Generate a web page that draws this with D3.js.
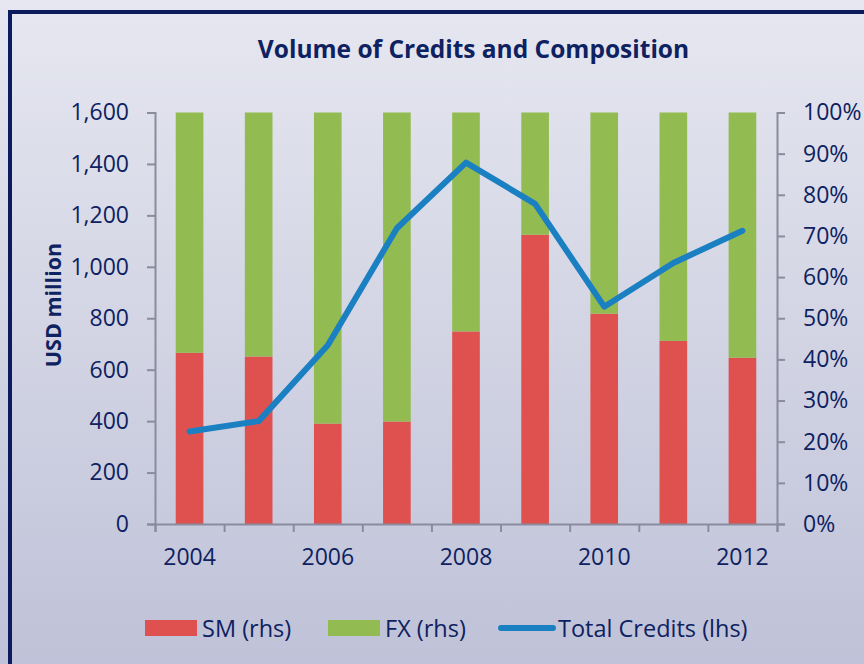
<!DOCTYPE html>
<html>
<head>
<meta charset="utf-8">
<script src="https://cdn.jsdelivr.net/npm/d3@7"></script>
<style>
  body { margin: 0; padding: 0; }
  svg text { font-family: "Open Sans", "Noto Sans", sans-serif; fill: #0e2160; }
</style>
</head>
<body>
<div id="chart"></div>
<script>
// Categories
const years = [2004, 2005, 2006, 2007, 2008, 2009, 2010, 2011, 2012];
// Total credits, USD million (left axis)
const totalCredits = [360, 400, 695, 1150, 1405, 1245, 845, 1015, 1140];
// Composition, % (right axis)
const smShare = [41.6, 40.7, 24.4, 24.9, 46.8, 70.3, 51.1, 44.5, 40.4];
const fxShare = [58.4, 59.3, 75.6, 75.1, 53.2, 29.7, 48.9, 55.5, 59.6];
// Tick labels
const leftTicks = [0, 200, 400, 600, 800, 1000, 1200, 1400, 1600];
const rightTicks = [0, 10, 20, 30, 40, 50, 60, 70, 80, 90, 100];
const xLabels = [2004, 2006, 2008, 2010, 2012];

const W = 864, H = 664;
const margin = {top: 112.5, right: 87, bottom: 140, left: 155};
const width = W - margin.left - margin.right,
    height = H - margin.top - margin.bottom;

const colors = {sm: "#df514f", fx: "#92bb51", line: "#1b80c1", axis: "#8a8c9e", frame: "#0b1b5e"};

const svg = d3.select("#chart")
    .append("svg")
    .attr("width", W)
    .attr("height", H);

// Background gradient
const grad = svg.append("defs").append("linearGradient")
    .attr("id", "bg")
    .attr("x1", 0).attr("y1", 0).attr("x2", 0).attr("y2", 1);
grad.append("stop").attr("offset", "0%").attr("stop-color", "#e6e7f0");
grad.append("stop").attr("offset", "100%").attr("stop-color", "#bfc2d8");

svg.append("rect")
    .attr("width", W)
    .attr("height", H)
    .attr("fill", "url(#bg)");

// Frame (runs off the right and bottom edges)
svg.append("rect")
    .attr("x", 10)
    .attr("y", 12)
    .attr("width", W + 20)
    .attr("height", H + 20)
    .attr("fill", "none")
    .attr("stroke", colors.frame)
    .attr("stroke-width", 4);

const chart = svg.append("g")
    .attr("transform", `translate(${margin.left},${margin.top})`);

// Scales
const x = d3.scaleBand()
    .domain(years)
    .range([0, width])
    .paddingInner(0.6)
    .paddingOuter(0.3);
const xEdge = d3.scaleLinear().domain([0, years.length]).range([0, width]);
const yL = d3.scaleLinear().domain([0, 1600]).range([height, 0]);
const yR = d3.scaleLinear().domain([0, 100]).range([height, 0]);

// Stacked bars
const rows = years.map((yr, i) => ({year: yr, sm: smShare[i], fx: fxShare[i]}));
const stacked = d3.stack().keys(["sm", "fx"])(rows);

chart.selectAll(".layer")
    .data(stacked)
    .enter().append("g")
    .attr("class", "layer")
    .attr("fill", d => colors[d.key])
    .selectAll("rect")
    .data(d => d)
    .enter().append("rect")
    .attr("x", d => x(d.data.year))
    .attr("width", x.bandwidth())
    .attr("y", d => yR(d[1]))
    .attr("height", d => yR(d[0]) - yR(d[1]));

// Axes
const styleAxis = g => {
    g.selectAll(".domain").attr("stroke", colors.axis).attr("stroke-width", 2);
    g.selectAll(".tick line").attr("stroke", colors.axis).attr("stroke-width", 2);
    g.selectAll("text").style("font-size", "23px").attr("fill", "#0e2160");
};

chart.append("g")
    .call(d3.axisLeft(yL)
        .tickValues(leftTicks)
        .tickFormat(d3.format(","))
        .tickSize(8)
        .tickPadding(18))
    .call(styleAxis);

chart.append("g")
    .attr("transform", `translate(${width},0)`)
    .call(d3.axisRight(yR)
        .tickValues(rightTicks)
        .tickFormat(d => d + "%")
        .tickSize(8)
        .tickPadding(18))
    .call(styleAxis);

// category boundary ticks
chart.append("g")
    .attr("transform", `translate(0,${height})`)
    .call(d3.axisBottom(xEdge)
        .ticks(years.length)
        .tickFormat("")
        .tickSize(8))
    .call(styleAxis);

// year labels
chart.append("g")
    .attr("transform", `translate(0,${height})`)
    .call(d3.axisBottom(x)
        .tickValues(xLabels)
        .tickSize(0)
        .tickPadding(25))
    .call(g => g.select(".domain").remove())
    .call(styleAxis);

// Total credits line
const line = d3.line()
    .x((d, i) => x(years[i]) + x.bandwidth() / 2)
    .y(d => yL(d));

chart.append("path")
    .datum(totalCredits)
    .attr("fill", "none")
    .attr("stroke", colors.line)
    .attr("stroke-width", 6)
    .attr("stroke-linejoin", "round")
    .attr("stroke-linecap", "round")
    .attr("d", line);

// Title
svg.append("text")
    .attr("x", 473.5)
    .attr("y", 58)
    .attr("text-anchor", "middle")
    .style("font-size", "24.5px")
    .style("font-weight", "bold")
    .text("Volume of Credits and Composition");

// Y axis label
svg.append("text")
    .attr("transform", "translate(61,305) rotate(-90)")
    .attr("text-anchor", "middle")
    .style("font-size", "21.5px")
    .style("font-weight", "bold")
    .text("USD million");

// Legend
const legendItems = [
    {label: "SM (rhs)", type: "rect", color: colors.sm, x: 145},
    {label: "FX (rhs)", type: "rect", color: colors.fx, x: 328},
    {label: "Total Credits (lhs)", type: "line", color: colors.line, x: 499}
];

const legend = svg.append("g").attr("transform", "translate(0,628)");

legendItems.forEach(item => {
    if (item.type === "rect") {
        legend.append("rect")
            .attr("x", item.x)
            .attr("y", -8)
            .attr("width", 52)
            .attr("height", 16)
            .attr("fill", item.color);
    } else {
        legend.append("line")
            .attr("x1", item.x + 2)
            .attr("x2", item.x + 54)
            .attr("y1", 0)
            .attr("y2", 0)
            .attr("stroke", item.color)
            .attr("stroke-width", 6)
            .attr("stroke-linecap", "round");
    }
    legend.append("text")
        .attr("x", item.x + (item.type === "rect" ? 57 : 59))
        .attr("y", 8.5)
        .style("font-size", "23.5px")
        .text(item.label);
});
</script>
</body>
</html>
